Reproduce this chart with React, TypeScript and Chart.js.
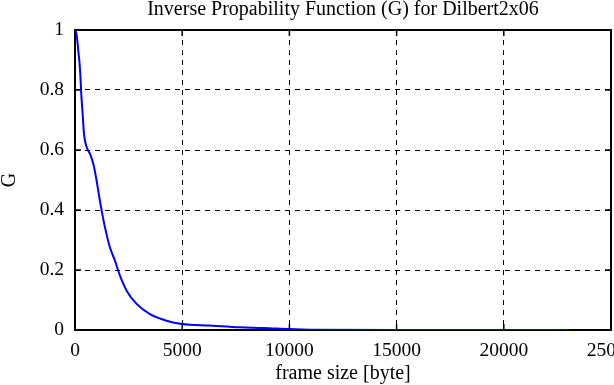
import React, { useEffect, useRef } from "react";
import { Chart, registerables } from "chart.js";

Chart.register(...registerables);

const frameSize = [0, 30, 100, 155, 210, 250, 290, 357, 420, 545, 700, 855, 980, 1135, 1243, 1398, 1630, 1864, 2066, 2408, 2873, 3495, 4272, 5000, 6290, 7690, 8800, 10000, 11000, 15000, 20000, 23000];
const gValues = [1, 1, 0.97, 0.93, 0.89, 0.85, 0.79, 0.72, 0.653, 0.609, 0.587, 0.553, 0.509, 0.442, 0.398, 0.342, 0.275, 0.231, 0.187, 0.131, 0.087, 0.053, 0.031, 0.02, 0.015, 0.009, 0.007, 0.003, 0.001, 0, 0, 0];
const xTicks = [0, 5000, 10000, 15000, 20000, 25000];
const yTicks = [0, 0.2, 0.4, 0.6, 0.8, 1];

const FONT = "'Liberation Serif', 'DejaVu Serif', serif";

const framePlugin = {
  id: "frame",
  beforeDatasetsDraw(chart: any) {
    const { ctx, chartArea: a, scales } = chart;
    ctx.save();
    ctx.strokeStyle = "#000";
    ctx.lineWidth = 2;
    ctx.setLineDash([]);
    ctx.strokeRect(a.left, a.top, a.right - a.left, a.bottom - a.top);
    ctx.lineWidth = 1.5;
    const t = 6;
    ctx.beginPath();
    for (const v of xTicks) {
      const px = scales.x.getPixelForValue(v);
      ctx.moveTo(px, a.bottom);
      ctx.lineTo(px, a.bottom - t);
      ctx.moveTo(px, a.top);
      ctx.lineTo(px, a.top + t);
    }
    for (const v of yTicks) {
      const py = scales.y.getPixelForValue(v);
      ctx.moveTo(a.left, py);
      ctx.lineTo(a.left + t, py);
      ctx.moveTo(a.right, py);
      ctx.lineTo(a.right - t, py);
    }
    ctx.stroke();
    ctx.restore();
  },
};

export default function App() {
  const ref = useRef<HTMLCanvasElement>(null);
  useEffect(() => {
    if (!ref.current) return;
    const chart = new Chart(ref.current, {
      type: "line",
      data: {
        datasets: [
          {
            data: frameSize.map((x, i) => ({ x, y: gValues[i] })),
            borderColor: "#0000ff",
            borderWidth: 2,
            pointRadius: 0,
            cubicInterpolationMode: "monotone",
            fill: false,
          },
        ],
      },
      plugins: [framePlugin],
      options: {
        animation: false,
        responsive: false,
        devicePixelRatio: 1,
        layout: { padding: { left: 0, right: 39, top: 0, bottom: 0 } },
        plugins: {
          legend: { display: false },
          tooltip: { enabled: false },
          title: {
            display: true,
            fullSize: false,
            text: "Inverse Propability Function (G) for Dilbert2x06",
            color: "#000",
            font: { family: FONT, size: 20, weight: "normal", lineHeight: 1 },
            padding: { top: 0, bottom: 10 },
          },
        },
        scales: {
          x: {
            type: "linear",
            min: 0,
            max: 25000,
            afterFit: (s: any) => {
              s.height = 55;
            },
            afterBuildTicks: (s: any) => {
              s.ticks = xTicks.map((v) => ({ value: v }));
            },
            ticks: {
              color: "#000",
              font: { family: FONT, size: 19.5 },
              padding: 9,
              maxRotation: 0,
              callback: (v: any) => String(v),
            },
            grid: { color: "#000", lineWidth: 1, drawTicks: false },
            border: { display: false, dash: [5, 5] },
            title: {
              display: true,
              text: "frame size [byte]",
              color: "#000",
              font: { family: FONT, size: 20, lineHeight: 1 },
              padding: { top: 0, bottom: 1 },
            },
          },
          y: {
            type: "linear",
            min: 0,
            max: 1,
            afterFit: (s: any) => {
              s.width = 75;
            },
            afterBuildTicks: (s: any) => {
              s.ticks = yTicks.map((v) => ({ value: v }));
            },
            ticks: {
              color: "#000",
              font: { family: FONT, size: 19.5 },
              padding: 11,
              callback: (v: any) => String(Math.round(Number(v) * 10) / 10),
            },
            grid: { color: "#000", lineWidth: 1, drawTicks: false },
            border: { display: false, dash: [5, 5] },
            title: {
              display: true,
              text: "G",
              color: "#000",
              font: { family: FONT, size: 20, lineHeight: 1 },
              padding: { top: 0, bottom: 0 },
            },
          },
        },
      },
    } as any);
    return () => chart.destroy();
  }, []);
  return (
    <div style={{ position: "fixed", left: 0, top: 0, width: 614, height: 385, overflow: "hidden", background: "#fff" }}>
      <canvas ref={ref} width={650} height={385} style={{ width: 650, height: 385, display: "block" }} />
    </div>
  );
}
